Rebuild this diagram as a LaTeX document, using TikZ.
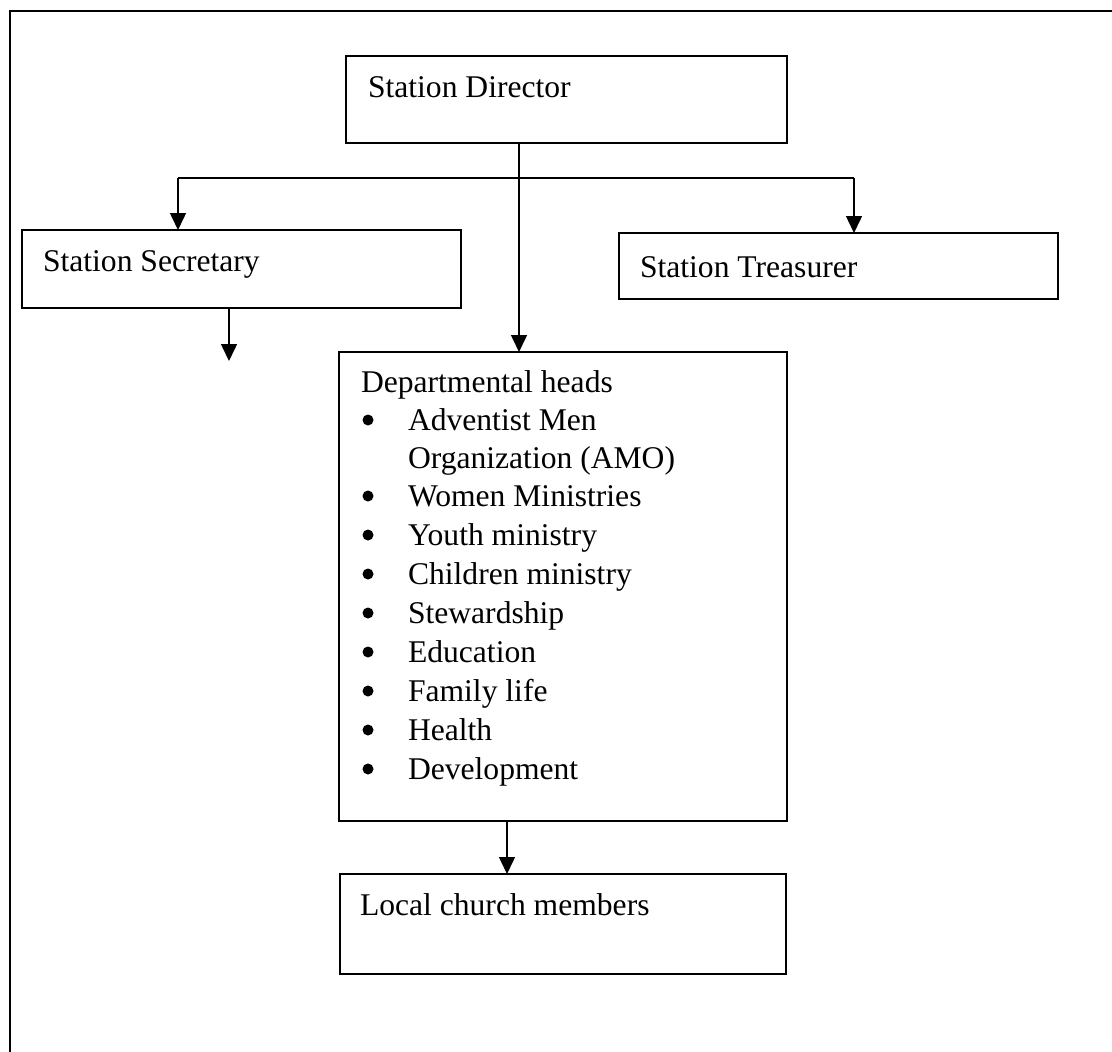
\documentclass[tikz,border=0pt]{standalone}
\usepackage{fontspec}
\setmainfont{Liberation Serif}
\usetikzlibrary{arrows.meta}
\begin{document}
\begin{tikzpicture}[x=1pt,y=-1pt,
  box/.style={draw,line width=2pt,inner sep=0pt,outer sep=0pt,rectangle},
  lbl/.style={anchor=base west,inner sep=0pt,outer sep=0pt,font=\fontsize{31.6}{39}\selectfont},
  conn/.style={line width=1.5pt},
  arr/.style={line width=1.5pt,-{Triangle[length=17pt,width=16pt]}},
  bul/.style={circle,fill=black,inner sep=0pt,minimum size=11pt}]
\useasboundingbox (0,0) rectangle (1112,1052);
% outer frame (partially visible)
\draw[line width=2.5pt] (1112,11) -- (10,11) -- (10,1052);
% boxes
\node[box,minimum width=441pt,minimum height=87pt] (dir) at (566.5,99.5) {};
\node[box,minimum width=439pt,minimum height=78pt] (sec) at (241.5,269) {};
\node[box,minimum width=439pt,minimum height=66pt] (tre) at (838.5,266) {};
\node[box,minimum width=448pt,minimum height=469pt] (dep) at (563,586.5) {};
\node[box,minimum width=446pt,minimum height=100pt] (loc) at (563,924) {};
% texts
\node[lbl] (tdir) at (368,97) {Station Director};
\node[lbl] (tsec) at (43,271) {Station Secretary};
\node[lbl] (ttre) at (640,277) {Station Treasurer};
\node[lbl] (tdep) at (361,392) {Departmental heads};
\node[lbl] (i1) at (408,430) {Adventist Men};
\node[lbl] (i1b) at (408,468) {Organization (AMO)};
\node[lbl] (i2) at (408,506) {Women Ministries};
\node[lbl] (i3) at (408,545) {Youth ministry};
\node[lbl] (i4) at (408,584) {Children ministry};
\node[lbl] (i5) at (408,623) {Stewardship};
\node[lbl] (i6) at (408,662) {Education};
\node[lbl] (i7) at (408,701) {Family life};
\node[lbl] (i8) at (408,740) {Health};
\node[lbl] (i9) at (408,779) {Development};
\node[lbl] (tloc) at (360,915) {Local church members};
% bullets
\foreach \n in {i1,i2,i3,i4,i5,i6,i7,i8,i9}{
  \node[bul] at ([xshift=-40pt,yshift=10pt]\n.base west) {};
}
% connectors
\coordinate (jc) at (519,178);
\coordinate (jl) at (178,178);
\coordinate (jr) at (854,178);
\coordinate (secend) at (229,361);
\coordinate (xd) at (507,0);
\draw[conn] (jl) -- (jr);
\draw[arr] (dir.south -| jc) -- (dep.north -| jc);
\draw[arr] (jl) -- (sec.north -| jl);
\draw[arr] (jr) -- (tre.north -| jr);
\draw[arr] (sec.south -| secend) -- (secend);
\draw[arr] (dep.south -| xd) -- (loc.north -| xd);
\end{tikzpicture}
\end{document}
